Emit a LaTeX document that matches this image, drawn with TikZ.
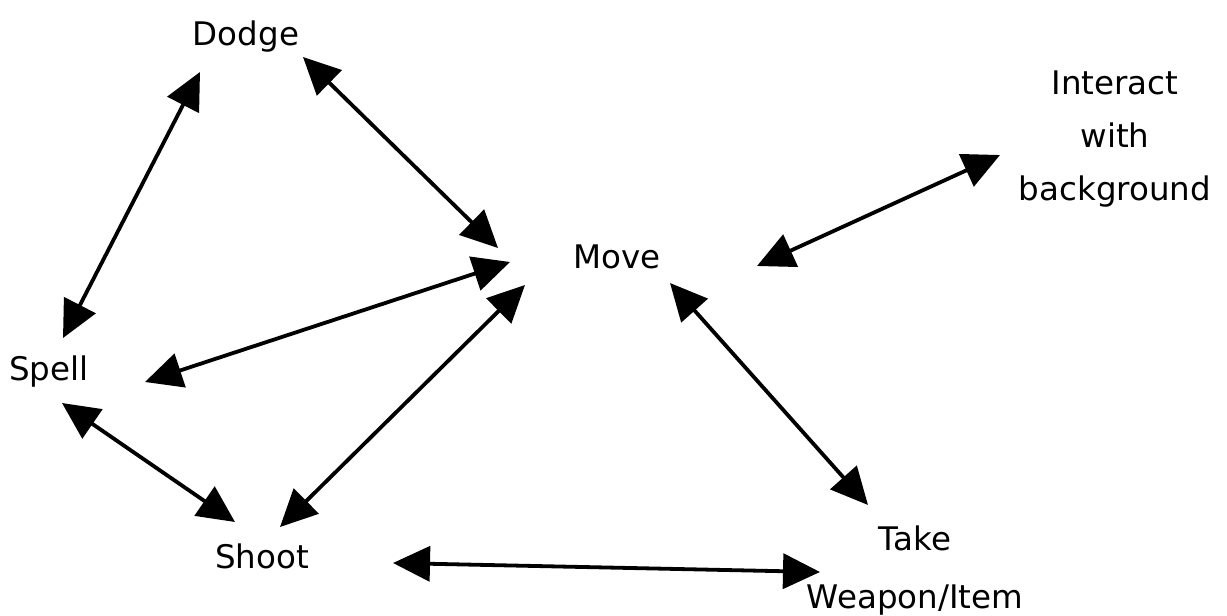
\documentclass[tikz,border=0pt]{standalone}
\usepackage{fontspec}
\setmainfont{DejaVu Sans}
\usetikzlibrary{arrows.meta}
\begin{document}
\begin{tikzpicture}[x=1pt,y=-1pt,
  lbl/.style={inner sep=0pt,font=\fontsize{32.5}{53}\selectfont},
  link/.style={line width=3.8pt,{Triangle[length=37pt,width=35pt]}-{Triangle[length=37pt,width=35pt]}}]
\useasboundingbox (0,0) rectangle (1227,616);
\node[lbl,anchor=base] (dodge) at (246,45) {Dodge};
\node[lbl,anchor=base] (move) at (617,268) {Move};
\node[lbl,anchor=base] (spell) at (49,380) {Spell};
\node[lbl,anchor=base] (shoot) at (262,568) {Shoot};
\node[lbl,anchor=north,align=center] (interact) at (1115,71) {Interact\\with\\background};
\node[lbl,anchor=north,align=center,font=\fontsize{32.5}{58}\selectfont] (take) at (915,526) {Take\\Weapon/Item};
% arrow ends
\coordinate (ds1) at (200,72);  \coordinate (ds2) at (63,338);
\coordinate (dm1) at (303,57);  \coordinate (dm2) at (498,248);
\coordinate (sm1) at (145,382); \coordinate (sm2) at (510,262);
\coordinate (hm1) at (525,285); \coordinate (hm2) at (280,527);
\coordinate (sh1) at (62,403);  \coordinate (sh2) at (235,522);
\coordinate (mt1) at (670,283); \coordinate (mt2) at (868,505);
\coordinate (mi1) at (757,266); \coordinate (mi2) at (1000,155);
\coordinate (ht1) at (393,563); \coordinate (ht2) at (820,572);
\draw[link] (ds1) -- (ds2);
\draw[link] (dm1) -- (dm2);
\draw[link] (sm1) -- (sm2);
\draw[link] (hm1) -- (hm2);
\draw[link] (sh1) -- (sh2);
\draw[link] (mt1) -- (mt2);
\draw[link] (mi1) -- (mi2);
\draw[link] (ht1) -- (ht2);
\end{tikzpicture}
\end{document}
